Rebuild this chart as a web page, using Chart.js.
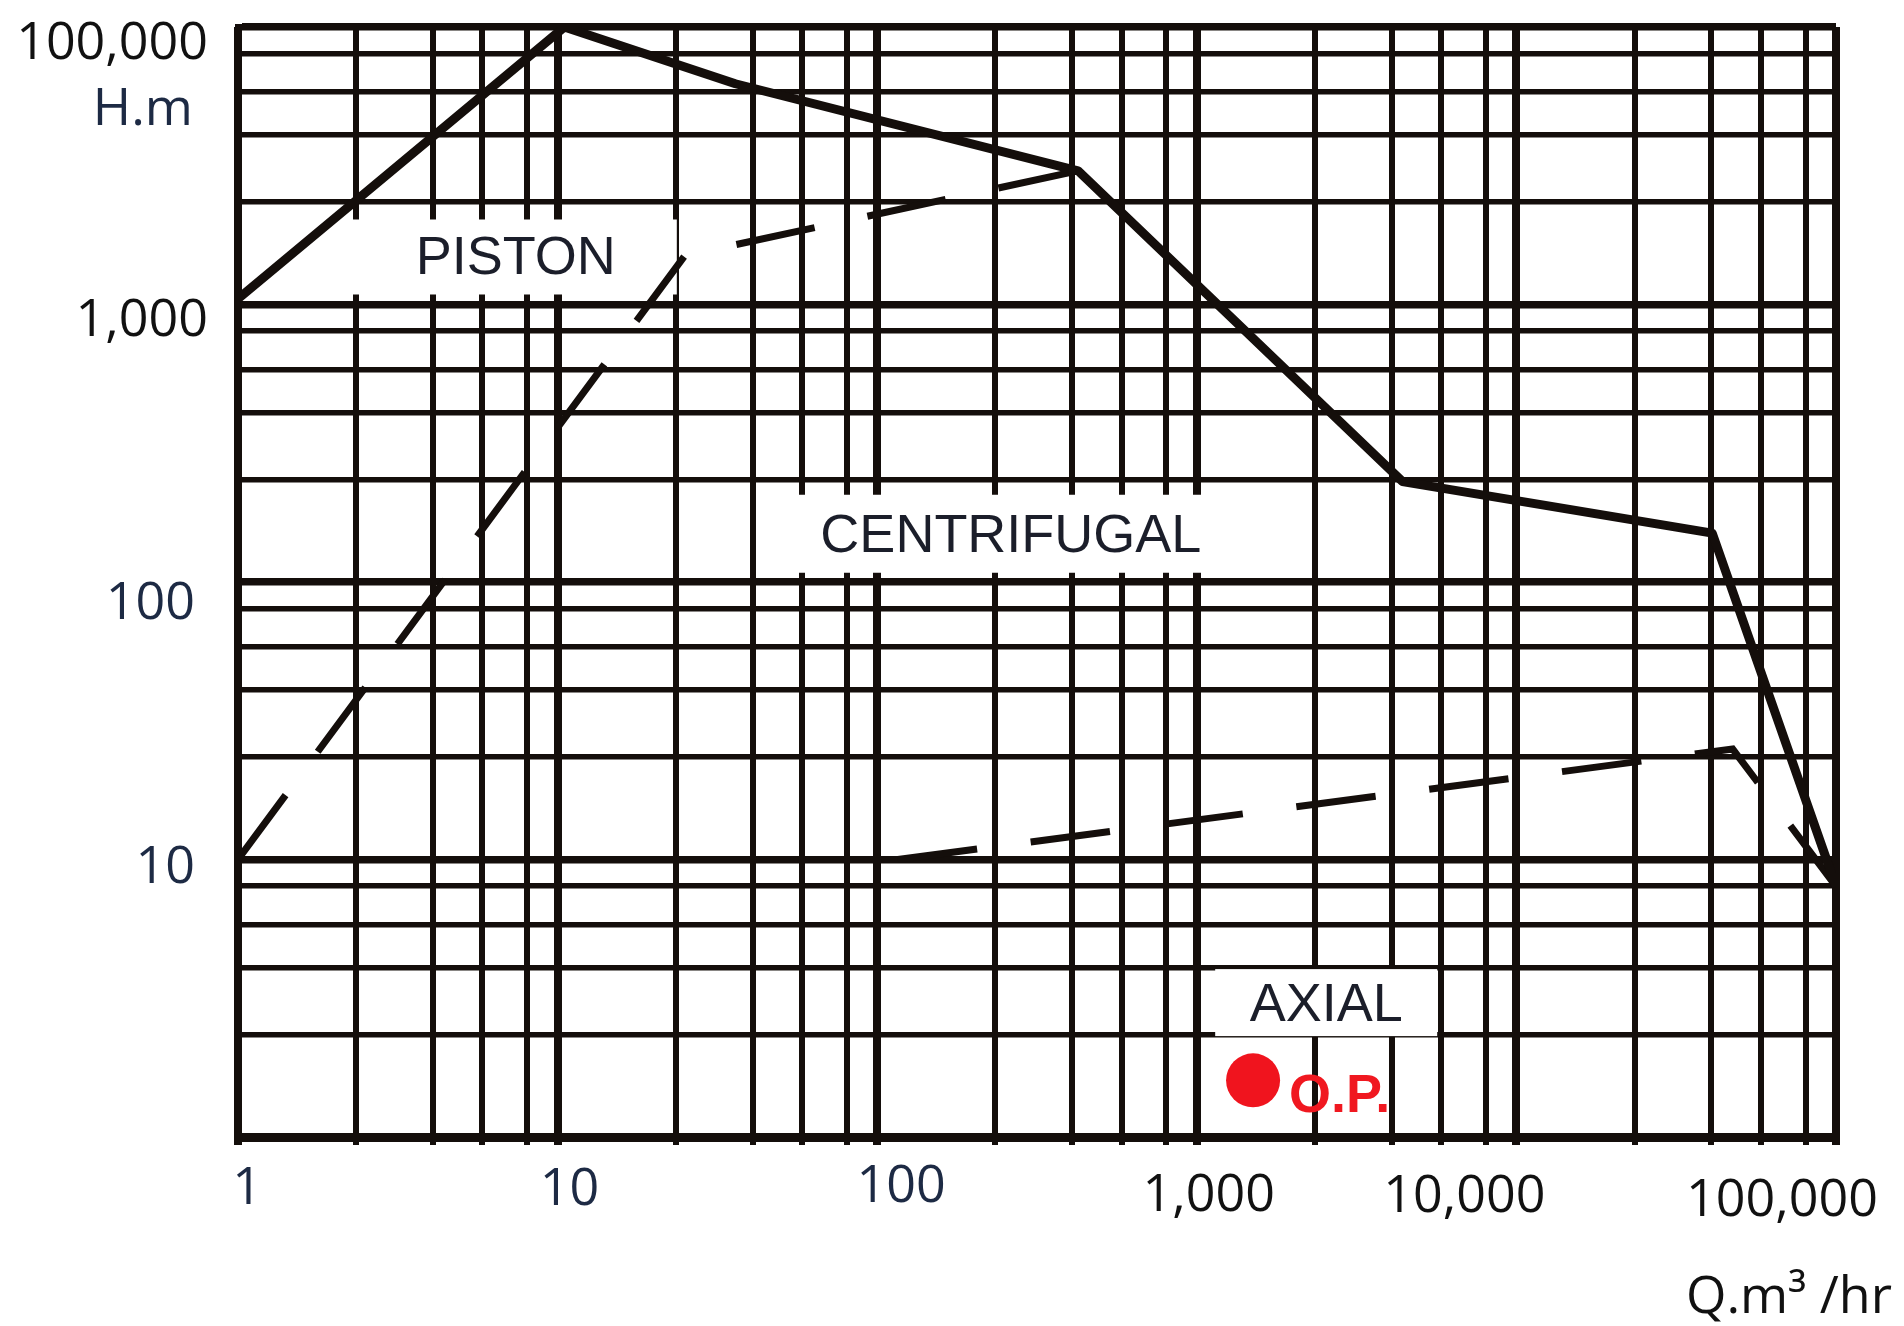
<!DOCTYPE html>
<html lang="en">
<head>
    <meta charset="UTF-8">
    <title>Pump selection chart</title>
    <style>
        body {
            margin: 0;
            background: #fff;
        }
        canvas {
            display: block;
        }
    </style>
    <script src="https://cdn.jsdelivr.net/npm/chart.js"></script>
</head>
<body>
    <canvas id="chart" width="1904" height="1326"></canvas>

    <script>
        // axis values
        const qTicks = [1, 10, 100, 1000, 10000, 100000];
        const qTickLabels = ['1', '10', '100', '1,000', '10,000', '100,000'];
        const hTicks = [1, 10, 100, 1000, 100000];
        const hTickLabels = ['', '10', '100', '1,000', '100,000'];
        const minorSteps = [0.37, 0.61, 0.765, 0.905]; // minor rules inside each labelled interval
        const axisTitles = ['Q.m³ /hr', 'H.m'];

        // upper limit (solid line)
        const upperQ = [1, 10.5, 36, 425, 4400, 41000, 100000];
        const upperH = [1100, 100000, 39000, 9200, 230, 150, 8];

        // lower limits (dashed lines)
        const pistonQ = [1, 25, 425];
        const pistonH = [10, 2250, 9200];
        const axialQ = [116, 47500, 100000];
        const axialH = [10, 25, 8];

        // operating point
        const opQ = [1500];
        const opH = [1.6];
        const opLabel = 'O.P.';

        // region names
        const regionNames = ['PISTON', 'CENTRIFUGAL', 'AXIAL'];
        const regionQ = [7.4, 262, 2540];
        const regionH = [2200, 148, 3.0];

        const ink = '#140e0b';
        const navy = '#1d2a44';

        function zip(xs, ys) {
            return xs.map((x, i) => ({ x: x, y: ys[i] }));
        }

        function gridValues(anchors) {
            const vals = [];
            for (let i = 0; i < anchors.length - 1; i++) {
                const lo = anchors[i], hi = anchors[i + 1];
                vals.push(lo);
                minorSteps.forEach(f => vals.push(lo * Math.pow(hi / lo, f)));
            }
            vals.push(anchors[anchors.length - 1]);
            return vals;
        }

        // log axis whose labelled values are evenly spaced (the top step spans two decades)
        class SegmentedLogScale extends Chart.LogarithmicScale {
            static id = 'segmentedLog';
            static defaults = Chart.LogarithmicScale.defaults;

            getPixelForValue(value) {
                if (value === undefined || value === 0) value = this.min;
                if (value === null || isNaN(value)) return NaN;
                const n = hTicks.length - 1;
                const lv = Math.log10(value);
                let i = 0;
                while (i < n - 1 && lv > Math.log10(hTicks[i + 1])) i++;
                const lo = Math.log10(hTicks[i]), hi = Math.log10(hTicks[i + 1]);
                return this.getPixelForDecimal((i + (lv - lo) / (hi - lo)) / n);
            }

            getValueForPixel(pixel) {
                const n = hTicks.length - 1;
                const d = this.getDecimalForPixel(pixel) * n;
                const i = Math.max(0, Math.min(n - 1, Math.floor(d)));
                const lo = Math.log10(hTicks[i]), hi = Math.log10(hTicks[i + 1]);
                return Math.pow(10, lo + (d - i) * (hi - lo));
            }
        }
        Chart.register(SegmentedLogScale);

        const labelsPlugin = {
            id: 'labels',
            beforeDatasetsDraw(chart) {
                const { ctx, scales: { x, y } } = chart;
                const boxes = [[326, 75, -2, 0], [422, 78, -10, -1], [222, 67, 0, -2]];
                ctx.save();
                ctx.font = '54px "Liberation Sans", Arial, sans-serif';
                ctx.textAlign = 'center';
                ctx.textBaseline = 'middle';
                regionNames.forEach((name, i) => {
                    const cx = x.getPixelForValue(regionQ[i]);
                    const cy = y.getPixelForValue(regionH[i]);
                    const [w, h, dx, dy] = boxes[i];
                    ctx.fillStyle = '#fff';
                    ctx.fillRect(cx + dx - w / 2, cy + dy - h / 2, w, h);
                    ctx.fillStyle = '#1b1e2a';
                    ctx.fillText(name, cx, cy + 2);
                });
                ctx.restore();
            },
            afterDraw(chart) {
                const { ctx, chartArea, scales: { x, y } } = chart;
                ctx.save();
                ctx.font = '52px "Open Sans", sans-serif';
                ctx.textBaseline = 'middle';

                // x tick labels
                const xdx = [9, 12, 24, 12, -52, -54];
                const xdy = [52, 53, 50, 59, 60, 64];
                ctx.textAlign = 'center';
                qTicks.forEach((v, i) => {
                    ctx.fillStyle = i < 3 ? navy : '#111';
                    ctx.fillText(qTickLabels[i], x.getPixelForValue(v) + xdx[i], chartArea.bottom + xdy[i]);
                });

                // y tick labels
                const yRight = [0, 195, 195, 208, 208];
                const ydy = [0, 9, 22, 17, 17];
                ctx.textAlign = 'right';
                hTicks.forEach((v, i) => {
                    if (!hTickLabels[i]) return;
                    ctx.fillStyle = (i === 1 || i === 2) ? navy : '#111';
                    ctx.fillText(hTickLabels[i], yRight[i], y.getPixelForValue(v) + ydy[i]);
                });

                // axis titles
                ctx.fillStyle = '#111';
                ctx.fillText(axisTitles[0], 1892, chartArea.bottom + 161);
                ctx.fillStyle = navy;
                ctx.fillText(axisTitles[1], 193, chartArea.top + 83);

                // operating point label
                ctx.font = 'bold 54px "Liberation Sans", Arial, sans-serif';
                ctx.textAlign = 'left';
                ctx.fillStyle = '#f01820';
                ctx.fillText(opLabel, x.getPixelForValue(opQ[0]) + 36, y.getPixelForValue(opH[0]) + 17);
                ctx.restore();
            }
        };

        const chart = new Chart(document.getElementById('chart').getContext('2d'), {
            type: 'scatter',
            data: {
                datasets: [
                    {
                        label: 'upper limit',
                        data: zip(upperQ, upperH),
                        showLine: true,
                        borderColor: ink,
                        borderWidth: 9,
                        borderJoinStyle: 'round',
                        pointRadius: 0
                    },
                    {
                        label: 'piston / centrifugal',
                        data: zip(pistonQ, pistonH),
                        showLine: true,
                        borderColor: ink,
                        borderWidth: 7,
                        borderDash: [80, 54],
                        pointRadius: 0
                    },
                    {
                        label: 'centrifugal / axial',
                        data: zip(axialQ, axialH),
                        showLine: true,
                        borderColor: ink,
                        borderWidth: 7,
                        borderDash: [80, 54],
                        pointRadius: 0
                    },
                    {
                        label: 'O.P.',
                        data: zip(opQ, opH),
                        pointRadius: 27,
                        pointBackgroundColor: '#f0141e',
                        pointBorderWidth: 0
                    }
                ]
            },
            options: {
                responsive: false,
                animation: false,
                layout: {
                    padding: { left: 238, right: 68, top: 25, bottom: 181 }
                },
                plugins: {
                    legend: { display: false },
                    tooltip: { enabled: false }
                },
                scales: {
                    x: {
                        type: 'logarithmic',
                        min: 1,
                        max: 100000,
                        afterBuildTicks: scale => {
                            scale.ticks = gridValues(qTicks).map(v => ({ value: v }));
                        },
                        ticks: { display: false },
                        grid: {
                            color: ink,
                            lineWidth: c => (c.tick && qTicks.includes(c.tick.value)) ? 8 : 6,
                            drawTicks: true,
                            tickLength: 8
                        },
                        border: { display: true, color: ink, width: 9 }
                    },
                    y: {
                        type: 'segmentedLog',
                        min: 1,
                        max: 100000,
                        afterBuildTicks: scale => {
                            scale.ticks = gridValues(hTicks).map(v => ({ value: v }));
                        },
                        ticks: { display: false },
                        grid: {
                            color: ink,
                            lineWidth: c => (c.tick && hTicks.includes(c.tick.value)) ? 7.5 : 5.5,
                            drawTicks: false
                        },
                        border: { display: true, color: ink, width: 7 }
                    }
                }
            },
            plugins: [labelsPlugin]
        });
    </script>
</body>
</html>
